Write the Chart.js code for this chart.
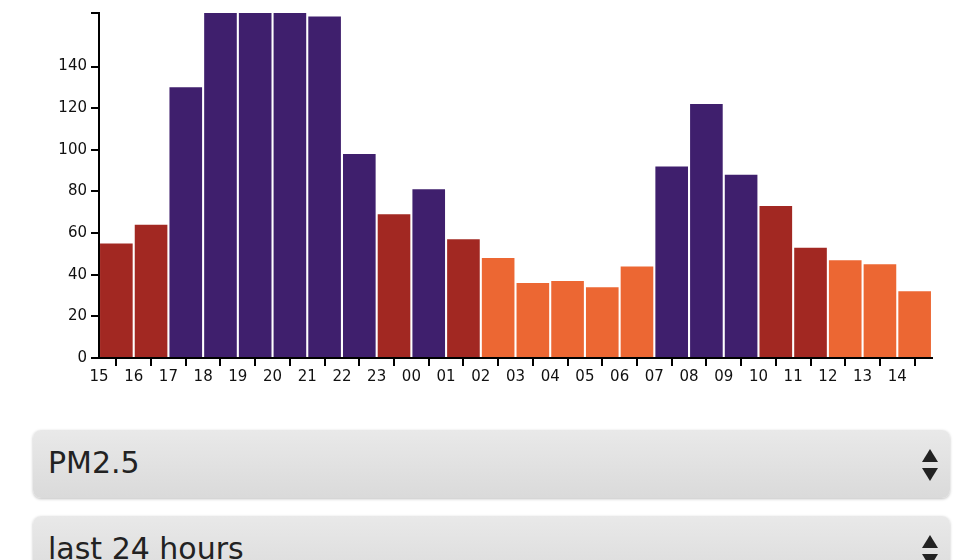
<!DOCTYPE html>
<html>
<head>
<meta charset="utf-8">
<script src="https://cdn.jsdelivr.net/npm/chart.js@4"></script>
<style>
  body { margin: 0; background: #fff; width: 960px; height: 560px; overflow: hidden; font-family: "DejaVu Sans", sans-serif; }
  #wrap { position: absolute; left: 0; top: 0; width: 960px; height: 392px; }
  .sel { position: absolute; left: 33px; width: 917px; height: 68px; border-radius: 8px;
         background: linear-gradient(#e9e9e9, #dadada); box-shadow: 0 1px 3px rgba(0,0,0,0.25);
         font-size: 30px; color: #222; line-height: 66px; box-sizing: border-box; padding-left: 15px; }
  .arr { position: absolute; right: 12px; top: 19px; width: 16px; height: 32px; }
  .arr:before, .arr:after { content: ""; position: absolute; left: 0; border-left: 8px solid transparent; border-right: 8px solid transparent; }
  .arr:before { top: 0; border-bottom: 13px solid #222; }
  .arr:after { bottom: 0; border-top: 13px solid #222; }
</style>
</head>
<body>
<div id="wrap"><canvas id="c"></canvas></div>
<div class="sel" style="top:430px">PM2.5<span class="arr"></span></div>
<div class="sel" style="top:516px">last 24 hours<span class="arr"></span></div>
<script>
const hours = ['15','16','17','18','19','20','21','22','23','00','01','02','03','04','05','06','07','08','09','10','11','12','13','14'];
const pm25 = [55, 64, 130, 180, 185, 175, 164, 98, 69, 81, 57, 48, 36, 37, 34, 44, 92, 122, 88, 73, 53, 47, 45, 32];

function colorFor(v) {
  if (v >= 80) return '#3f1f6d';
  if (v >= 50) return '#a22822';
  return '#ec6733';
}

const ctx = document.getElementById('c').getContext('2d');
new Chart(ctx, {
  type: 'bar',
  data: {
    datasets: [{
      data: pm25.map((v, i) => ({ x: i + 0.5, y: v })),
      backgroundColor: pm25.map(colorFor),
      borderWidth: 0,
      barPercentage: 0.94,
      categoryPercentage: 1
    }]
  },
  options: {
    responsive: true,
    maintainAspectRatio: false,
    animation: false,
    layout: { padding: { left: 0, right: 28, top: 0, bottom: 4 } },
    plugins: { legend: { display: false }, tooltip: { enabled: false } },
    scales: {
      x: {
        type: 'linear',
        min: 0,
        max: 24,
        offset: false,
        border: { color: '#000', width: 2 },
        grid: { drawOnChartArea: false, color: '#000', lineWidth: 2, tickLength: 8 },
        ticks: {
          stepSize: 1,
          autoSkip: false,
          maxRotation: 0,
          color: '#111',
          font: { family: 'DejaVu Sans', size: 15 },
          padding: 2,
          callback: (v) => hours[v] !== undefined ? hours[v] : ''
        }
      },
      y: {
        min: 0,
        max: 165.7,
        afterFit: (s) => { s.width = 99; },
        border: { color: '#000', width: 2 },
        grid: { drawOnChartArea: false, color: '#000', lineWidth: 2, tickLength: 8 },
        ticks: {
          stepSize: 20,
          color: '#111',
          font: { family: 'DejaVu Sans', size: 15 },
          padding: 4,
          callback: (v) => v % 20 === 0 ? v : ''
        }
      }
    }
  }
});
</script>
</body>
</html>
